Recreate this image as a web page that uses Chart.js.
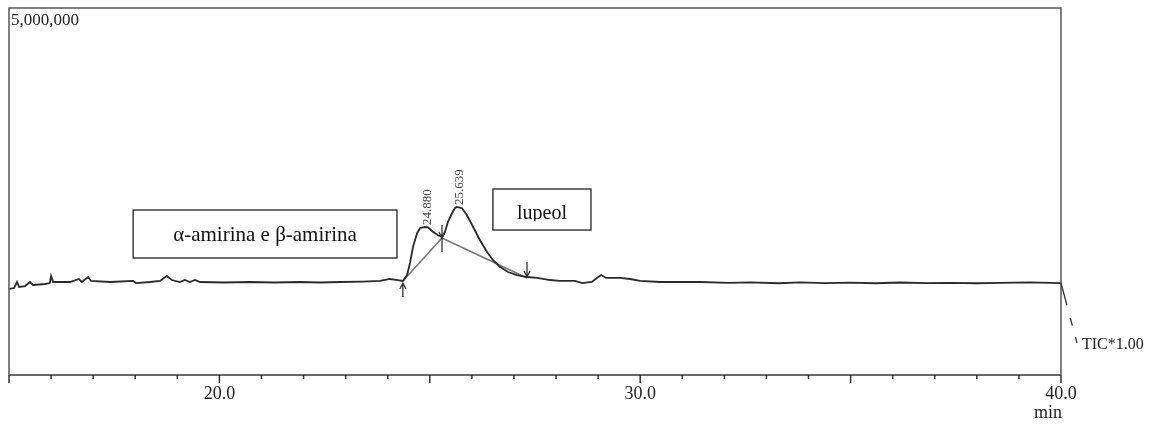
<!DOCTYPE html>
<html>
<head>
<meta charset="utf-8">
<script src="https://cdn.jsdelivr.net/npm/chart.js@4.4.1/dist/chart.umd.min.js"></script>
<style>
  html, body { margin: 0; padding: 0; background: #fff; }
</style>
</head>
<body>
<canvas id="tic" width="1157" height="427"></canvas>
<script>
// TIC trace: retention time (min) and intensity (counts)
var times = [
  15.00, 15.12, 15.19, 15.24, 15.38, 15.50, 15.57, 15.86, 15.97, 16.00,
  16.05, 16.45, 16.66, 16.73, 16.88, 16.95, 17.40, 17.95, 18.02, 18.35,
  18.59, 18.75, 18.87, 19.06, 19.18, 19.30, 19.42, 19.54, 20.10, 20.73,
  21.30, 21.92, 22.40, 22.87, 23.40, 23.82, 24.05, 24.24, 24.36, 24.46,
  24.53, 24.60, 24.70, 24.77, 24.88, 24.96, 25.08, 25.19, 25.29, 25.36,
  25.43, 25.53, 25.60, 25.639, 25.76, 25.88, 26.03, 26.19, 26.36, 26.50,
  26.67, 26.86, 27.07, 27.31, 27.55, 27.86, 28.09, 28.45, 28.62, 28.85,
  28.97, 29.07, 29.19, 29.52, 29.76, 30.00, 30.47, 31.42, 32.10, 32.61,
  33.30, 33.80, 34.40, 34.99, 35.60, 36.17, 36.80, 37.36, 38.00, 38.55,
  39.26, 40.00
];
var intensity = [
  1172000, 1185000, 1267000, 1199000, 1212000, 1267000, 1226000, 1240000, 1253000, 1349000,
  1267000, 1267000, 1308000, 1267000, 1335000, 1281000, 1267000, 1281000, 1253000, 1267000,
  1281000, 1349000, 1294000, 1267000, 1294000, 1267000, 1294000, 1267000, 1260000, 1267000,
  1260000, 1267000, 1260000, 1267000, 1272000, 1281000, 1308000, 1294000, 1281000, 1362000,
  1526000, 1744000, 1935000, 2003000, 2016000, 2010000, 1948000, 1907000, 1880000, 1948000,
  2085000, 2207000, 2275000, 2289000, 2275000, 2180000, 2016000, 1839000, 1676000, 1567000,
  1471000, 1403000, 1362000, 1335000, 1322000, 1294000, 1281000, 1281000, 1253000, 1267000,
  1322000, 1362000, 1322000, 1322000, 1308000, 1281000, 1267000, 1267000, 1255000, 1262000,
  1250000, 1262000, 1253000, 1258000, 1250000, 1260000, 1253000, 1256000, 1250000, 1255000,
  1262000, 1253000
];

// integration baseline: peak start, valley drop, peak end
var integTimes = [24.36, 25.29, 27.31];
var integLevels = [1281000, 1866000, 1322000];

// apex retention times of the two integrated peaks
var peakTimes = [24.880, 25.639];

// compound labels
var compoundNames = ['α-amirina e β-amirina', 'lupeol'];

var yTop = 5000000;
var serif = '"Liberation Serif", "Times New Roman", serif';

function levelAt(t) {
  var i = times.indexOf(t);
  return intensity[i];
}

var decorPlugin = {
  id: 'decor',
  afterDatasetsDraw: function(chart, args, opts) {
    var ctx = chart.ctx;
    var xs = chart.scales.x, ys = chart.scales.y;
    var a = chart.chartArea;

    ctx.save();

    // frame
    ctx.strokeStyle = '#555';
    ctx.lineWidth = 1.5;
    ctx.beginPath();
    ctx.moveTo(a.left, a.bottom);
    ctx.lineTo(a.left, a.top);
    ctx.lineTo(a.right, a.top);
    ctx.lineTo(a.right, a.bottom);
    ctx.stroke();
    ctx.strokeStyle = '#666';
    ctx.lineWidth = 2;
    ctx.beginPath();
    ctx.moveTo(a.left, a.bottom);
    ctx.lineTo(a.right, a.bottom);
    ctx.stroke();

    // time ticks, longer every 5 min
    ctx.strokeStyle = '#333';
    ctx.lineWidth = 1.5;
    xs.ticks.forEach(function(tk) {
      var px = xs.getPixelForValue(tk.value);
      var len = tk.value % 5 === 0 ? 8 : 4;
      ctx.beginPath();
      ctx.moveTo(px, a.bottom);
      ctx.lineTo(px, a.bottom + len);
      ctx.stroke();
    });

    // full-scale intensity
    ctx.fillStyle = '#222';
    ctx.font = '17px ' + serif;
    ctx.textAlign = 'left';
    ctx.textBaseline = 'alphabetic';
    ctx.fillText(yTop.toLocaleString('en-US'), a.left + 2, a.top + 17);

    // unit under the last tick
    ctx.font = '18px ' + serif;
    ctx.textAlign = 'right';
    ctx.fillText('min', a.right + 1, a.bottom + 43);

    // retention time labels at the apexes
    ctx.font = '13px ' + serif;
    ctx.fillStyle = '#444';
    peakTimes.forEach(function(t) {
      var px = xs.getPixelForValue(t), py = ys.getPixelForValue(levelAt(t));
      ctx.save();
      ctx.translate(px + 3, py - 2);
      ctx.rotate(-Math.PI / 2);
      ctx.textAlign = 'left';
      ctx.textBaseline = 'middle';
      ctx.fillText(t.toFixed(3), 0, 0);
      ctx.restore();
    });

    // integration markers
    ctx.strokeStyle = '#333';
    ctx.lineWidth = 1.3;
    function arrow(px, y0, y1) {
      var dir = y1 > y0 ? 1 : -1;
      ctx.beginPath();
      ctx.moveTo(px, y0);
      ctx.lineTo(px, y1);
      ctx.moveTo(px - 3, y1 - dir * 6);
      ctx.lineTo(px, y1);
      ctx.lineTo(px + 3, y1 - dir * 6);
      ctx.stroke();
    }
    var s = { x: xs.getPixelForValue(integTimes[0]), y: ys.getPixelForValue(integLevels[0]) };
    var v = { x: xs.getPixelForValue(integTimes[1]), y: ys.getPixelForValue(integLevels[1]) };
    var e = { x: xs.getPixelForValue(integTimes[2]), y: ys.getPixelForValue(integLevels[2]) };
    arrow(s.x, s.y + 16, s.y + 2);
    arrow(e.x, e.y - 16, e.y - 1);
    arrow(v.x, v.y - 13, v.y);
    ctx.beginPath();
    ctx.moveTo(v.x, v.y);
    ctx.lineTo(v.x, v.y + 14);
    ctx.stroke();

    // compound boxes
    opts.boxes.forEach(function(b, i) {
      var x0 = xs.getPixelForValue(b.x0), x1 = xs.getPixelForValue(b.x1);
      var y0 = ys.getPixelForValue(b.y0), y1 = ys.getPixelForValue(b.y1);
      ctx.fillStyle = '#fff';
      ctx.fillRect(x0, y0, x1 - x0, y1 - y0);
      ctx.strokeStyle = '#222';
      ctx.lineWidth = 1.3;
      ctx.strokeRect(x0, y0, x1 - x0, y1 - y0);
      ctx.save();
      ctx.beginPath();
      ctx.rect(x0, y0, x1 - x0, y1 - y0 - b.clip);
      ctx.clip();
      ctx.fillStyle = '#111';
      ctx.font = b.size + 'px ' + serif;
      ctx.textAlign = 'center';
      ctx.textBaseline = 'alphabetic';
      ctx.fillText(compoundNames[i], (x0 + x1) / 2, y1 - b.base);
      ctx.restore();
    });

    // TIC trace tag with dashed leader from the last point
    var lx = xs.getPixelForValue(times[times.length - 1]);
    var ly = ys.getPixelForValue(intensity[intensity.length - 1]);
    ctx.strokeStyle = '#333';
    ctx.lineWidth = 1.3;
    ctx.setLineDash([23, 13, 8, 12, 6, 100]);
    ctx.beginPath();
    ctx.moveTo(lx, ly);
    ctx.lineTo(lx + 16, ly + 60);
    ctx.stroke();
    ctx.setLineDash([]);
    ctx.fillStyle = '#222';
    ctx.font = '16px ' + serif;
    ctx.textAlign = 'left';
    ctx.textBaseline = 'middle';
    ctx.fillText('TIC*1.00', lx + 21, ly + 62);

    ctx.restore();
  }
};

var ctx = document.getElementById('tic').getContext('2d');

var trace = times.map(function(t, i) { return { x: t, y: intensity[i] }; });
var baseline = integTimes.map(function(t, i) { return { x: t, y: integLevels[i] }; });

new Chart(ctx, {
  type: 'scatter',
  data: {
    datasets: [
      { data: trace, showLine: true, borderColor: '#2a2a2a', borderWidth: 1.8, pointRadius: 0, tension: 0 },
      { data: baseline, showLine: true, borderColor: '#777', borderWidth: 1.6, pointRadius: 0, tension: 0 }
    ]
  },
  options: {
    responsive: false,
    devicePixelRatio: 1,
    animation: false,
    layout: { padding: { left: 9, top: 8, right: 96, bottom: 0 } },
    scales: {
      x: {
        type: 'linear',
        min: 15,
        max: 40,
        grid: { display: false, drawTicks: false },
        border: { display: false },
        ticks: {
          stepSize: 1,
          autoSkip: false,
          maxRotation: 0,
          padding: 8,
          color: '#222',
          font: { family: serif, size: 18 },
          callback: function(val) { return val % 10 === 0 ? val.toFixed(1) : ''; }
        },
        afterFit: function(scale) { scale.height = 52; }
      },
      y: {
        display: false,
        min: 0,
        max: yTop
      }
    },
    plugins: {
      legend: { display: false },
      tooltip: { enabled: false },
      decor: {
        boxes: [
          { x0: 17.95, x1: 24.22, y0: 2248000, y1: 1594000, base: 17, clip: 0, size: 21 },
          { x0: 26.50, x1: 28.83, y0: 2534000, y1: 1975000, base: 11, clip: 9, size: 20 }
        ]
      }
    }
  },
  plugins: [decorPlugin]
});
</script>
</body>
</html>
